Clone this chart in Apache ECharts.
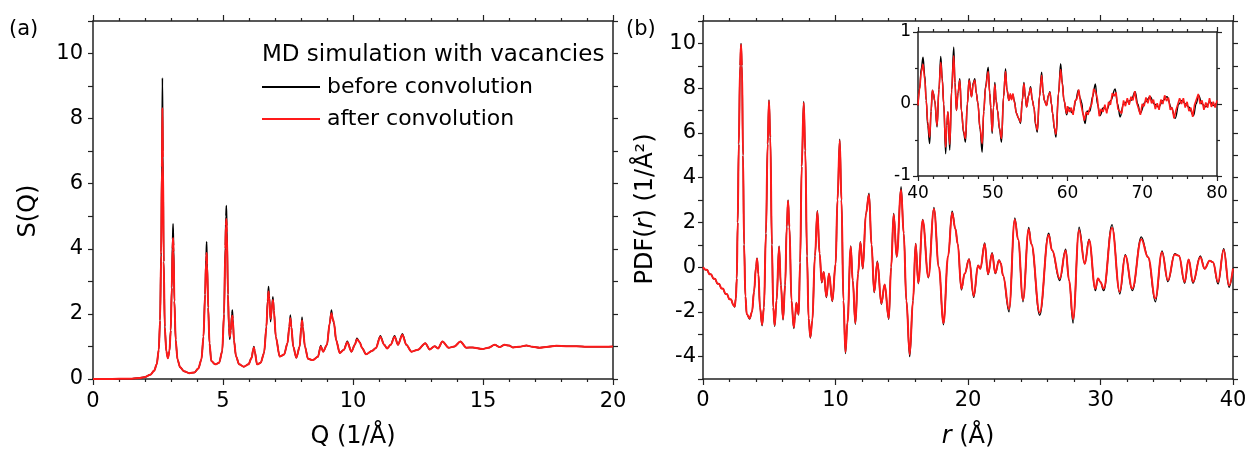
<!DOCTYPE html>
<html>
<head>
<meta charset="utf-8">
<script src="https://cdn.jsdelivr.net/npm/echarts@6/dist/echarts.min.js"></script>
<style>
html,body{margin:0;padding:0;background:#fff;}
#chart{width:1252px;height:454px;}
</style>
</head>
<body>
<div id="chart"></div>
<script>
// ---- Panel (a): S(Q) ----
const sqAfter = [
[0,0],[0.5,0],[1.0,0.005],[1.5,0.01],[1.8,0.03],[2.0,0.06],[2.2,0.13],[2.35,0.25],[2.45,0.45],[2.53,0.9],[2.58,1.8],[2.62,3.8],[2.65,6.5],[2.67,8.33],[2.69,6.8],[2.72,3.6],[2.76,1.6],[2.82,0.85],[2.88,0.64],[2.94,0.85],[2.99,1.5],[3.03,2.8],[3.06,4.0],[3.08,4.33],[3.10,3.9],[3.13,2.4],[3.18,1.2],[3.25,0.6],[3.35,0.36],[3.5,0.24],[3.7,0.18],[3.9,0.2],[4.05,0.32],[4.17,0.6],[4.25,1.3],[4.31,2.6],[4.35,3.6],[4.37,3.87],[4.39,3.5],[4.43,2.2],[4.48,1.1],[4.55,0.55],[4.7,0.45],[4.85,0.5],[4.97,0.85],[5.04,2.0],[5.09,4.0],[5.11,4.7],[5.13,4.92],[5.15,4.5],[5.19,2.6],[5.23,1.6],[5.26,1.3],[5.30,1.5],[5.34,1.9],[5.36,1.94],[5.38,1.8],[5.42,1.2],[5.5,0.7],[5.62,0.45],[5.8,0.38],[5.98,0.45],[6.1,0.65],[6.16,0.9],[6.19,0.97],[6.22,0.85],[6.31,0.45],[6.45,0.5],[6.58,0.8],[6.67,1.6],[6.72,2.4],[6.75,2.69],[6.78,2.5],[6.83,1.85],[6.88,2.2],[6.92,2.43],[6.96,2.1],[7.03,1.3],[7.18,0.69],[7.35,0.75],[7.48,1.1],[7.55,1.6],[7.59,1.87],[7.63,1.6],[7.7,1.0],[7.82,0.65],[7.95,1.0],[8.01,1.6],[8.04,1.8],[8.07,1.6],[8.15,1.0],[8.27,0.62],[8.45,0.58],[8.65,0.68],[8.76,1.0],[8.85,0.84],[9.0,1.05],[9.1,1.7],[9.17,2.02],[9.22,1.85],[9.27,1.73],[9.35,1.2],[9.49,0.8],[9.65,0.9],[9.78,1.13],[9.94,0.84],[10.07,1.05],[10.15,1.22],[10.26,1.13],[10.35,0.95],[10.5,0.76],[10.74,0.87],[10.88,0.95],[11.05,1.3],[11.2,1.05],[11.31,0.94],[11.45,1.05],[11.6,1.3],[11.73,1.05],[11.9,1.36],[12.05,1.05],[12.25,0.84],[12.5,0.9],[12.78,1.1],[12.95,0.91],[13.14,1.01],[13.27,0.94],[13.44,1.15],[13.68,0.96],[13.9,1.0],[14.13,1.15],[14.36,0.96],[14.6,0.97],[14.98,0.92],[15.2,0.96],[15.45,1.05],[15.64,0.98],[15.83,1.05],[16.0,1.03],[16.15,0.97],[16.4,0.99],[16.67,1.03],[16.9,0.99],[17.18,0.96],[17.5,0.99],[17.82,1.02],[18.2,1.01],[18.6,1.01],[19.0,0.99],[19.5,0.99],[20.0,1.0]
];
const sqBefore = [
[0,0],[0.5,0],[1.0,0.005],[1.5,0.01],[1.8,0.03],[2.0,0.06],[2.2,0.13],[2.35,0.25],[2.45,0.45],[2.53,0.9],[2.58,1.8],[2.62,3.9],[2.65,6.8],[2.67,9.25],[2.69,7.0],[2.72,3.6],[2.76,1.6],[2.82,0.85],[2.88,0.64],[2.94,0.85],[2.99,1.5],[3.03,2.8],[3.06,4.3],[3.08,4.77],[3.10,4.1],[3.13,2.4],[3.18,1.2],[3.25,0.6],[3.35,0.36],[3.5,0.24],[3.7,0.18],[3.9,0.2],[4.05,0.32],[4.17,0.6],[4.25,1.3],[4.31,2.6],[4.35,3.8],[4.37,4.22],[4.39,3.6],[4.43,2.2],[4.48,1.1],[4.55,0.55],[4.7,0.45],[4.85,0.5],[4.97,0.85],[5.04,2.0],[5.09,4.1],[5.11,5.0],[5.13,5.33],[5.15,4.7],[5.19,2.6],[5.23,1.55],[5.26,1.22],[5.30,1.5],[5.34,2.0],[5.36,2.12],[5.38,1.85],[5.42,1.2],[5.5,0.7],[5.62,0.45],[5.8,0.38],[5.98,0.45],[6.1,0.65],[6.16,0.9],[6.19,1.0],[6.22,0.85],[6.31,0.45],[6.45,0.5],[6.58,0.8],[6.67,1.6],[6.72,2.45],[6.75,2.84],[6.78,2.55],[6.83,1.76],[6.88,2.2],[6.92,2.53],[6.96,2.1],[7.03,1.3],[7.18,0.69],[7.35,0.75],[7.48,1.1],[7.55,1.6],[7.59,1.97],[7.63,1.6],[7.7,1.0],[7.82,0.65],[7.95,1.0],[8.01,1.6],[8.04,1.9],[8.07,1.6],[8.15,1.0],[8.27,0.62],[8.45,0.58],[8.65,0.68],[8.76,1.03],[8.85,0.84],[9.0,1.05],[9.1,1.7],[9.17,2.12],[9.22,1.85],[9.27,1.7],[9.35,1.2],[9.49,0.8],[9.65,0.9],[9.78,1.16],[9.94,0.84],[10.07,1.05],[10.15,1.25],[10.26,1.13],[10.35,0.95],[10.5,0.76],[10.74,0.87],[10.88,0.95],[11.05,1.33],[11.2,1.05],[11.31,0.94],[11.45,1.05],[11.6,1.33],[11.73,1.05],[11.9,1.39],[12.05,1.05],[12.25,0.84],[12.5,0.9],[12.78,1.1],[12.95,0.91],[13.14,1.01],[13.27,0.94],[13.44,1.15],[13.68,0.96],[13.9,1.0],[14.13,1.15],[14.36,0.96],[14.6,0.97],[14.98,0.92],[15.2,0.96],[15.45,1.05],[15.64,0.98],[15.83,1.05],[16.0,1.03],[16.15,0.97],[16.4,0.99],[16.67,1.03],[16.9,0.99],[17.18,0.96],[17.5,0.99],[17.82,1.02],[18.2,1.01],[18.6,1.01],[19.0,0.99],[19.5,0.99],[20.0,1.0]
];

// ---- Panel (b): PDF(r) ----
const pdfAfter = [
[0,0],[0.2,-0.12],[0.3,-0.12],[0.5,-0.32],[0.6,-0.32],[0.8,-0.52],[0.9,-0.52],[1.1,-0.74],[1.2,-0.74],[1.4,-0.96],[1.5,-0.96],[1.7,-1.2],[1.8,-1.2],[2.0,-1.44],[2.1,-1.44],[2.3,-1.7],[2.39,-1.76],[2.48,-1.4],[2.55,-0.5],[2.62,2.0],[2.7,5.5],[2.8,9.0],[2.87,9.95],[2.94,9.0],[3.02,5.0],[3.1,1.0],[3.2,-1.3],[3.3,-2.1],[3.52,-2.28],[3.7,-2.0],[3.85,-1.1],[4.0,0.0],[4.08,0.37],[4.18,-0.3],[4.3,-1.8],[4.46,-2.57],[4.6,-1.8],[4.75,1.5],[4.88,5.5],[4.98,7.42],[5.08,5.8],[5.2,1.0],[5.3,-1.8],[5.41,-2.6],[5.55,-1.5],[5.74,0.91],[5.88,-0.8],[6.04,-2.32],[6.2,-0.8],[6.32,1.8],[6.42,2.97],[6.52,1.8],[6.68,-1.5],[6.85,-2.69],[6.95,-2.2],[7.05,-1.59],[7.15,-2.0],[7.22,-2.1],[7.33,0.2],[7.45,4.5],[7.6,7.35],[7.72,5.2],[7.85,0.5],[7.97,-2.3],[8.1,-3.12],[8.25,-2.4],[8.45,0.5],[8.63,2.47],[8.8,0.6],[8.96,-0.66],[9.11,-0.22],[9.31,-1.32],[9.51,-0.29],[9.76,-1.5],[10.01,0.14],[10.15,3.0],[10.32,5.66],[10.45,3.0],[10.6,-1.5],[10.75,-3.79],[10.9,-2.5],[11.15,0.91],[11.3,-0.6],[11.5,-2.5],[11.7,-0.3],[11.88,1.1],[12.06,-0.05],[12.3,2.4],[12.53,3.24],[12.72,1.0],[12.92,-1.1],[13.16,0.22],[13.46,-1.62],[13.71,-0.78],[14.02,-2.28],[14.2,0.0],[14.39,2.35],[14.62,0.47],[14.95,3.45],[15.15,1.5],[15.35,-1.5],[15.6,-3.9],[15.85,-1.5],[16.05,1.03],[16.25,-0.71],[16.58,2.09],[17.01,-0.44],[17.43,2.6],[17.8,0.0],[18.15,-2.5],[18.5,0.5],[18.8,2.43],[19.05,1.7],[19.22,1.05],[19.5,-0.97],[19.75,-0.29],[20.08,0.34],[20.43,-1.29],[20.76,0.07],[20.93,-0.07],[21.26,1.03],[21.51,-0.3],[21.82,0.6],[22.06,-0.26],[22.34,0.3],[22.47,0.18],[22.64,-0.37],[23.1,-1.87],[23.53,2.13],[23.78,1.25],[24.15,-1.47],[24.58,1.69],[24.78,1.03],[25.41,-2.03],[26.09,1.44],[26.34,0.76],[26.92,-0.51],[27.37,0.74],[27.63,-0.59],[27.93,-2.32],[28.38,1.65],[28.81,0.15],[29.14,1.2],[29.61,-0.96],[29.81,-0.51],[29.99,-0.66],[30.24,-0.96],[30.87,1.76],[31.45,-1.1],[31.87,0.51],[32.4,-0.96],[33.08,1.25],[33.59,0.44],[34.14,-1.4],[34.64,0.66],[35.09,-0.59],[35.6,0.56],[35.92,0.51],[36.35,-0.66],[36.65,0.34],[36.98,-0.66],[37.53,0.44],[37.86,-0.07],[38.24,0.29],[38.49,0.22],[38.87,-0.66],[39.3,0.76],[39.7,-0.82],[40.0,-0.07]
];
const pdfBefore = [
[0,0],[0.2,-0.12],[0.3,-0.12],[0.5,-0.32],[0.6,-0.32],[0.8,-0.52],[0.9,-0.52],[1.1,-0.74],[1.2,-0.74],[1.4,-0.96],[1.5,-0.96],[1.7,-1.2],[1.8,-1.2],[2.0,-1.44],[2.1,-1.44],[2.3,-1.7],[2.39,-1.78],[2.48,-1.4],[2.55,-0.5],[2.62,2.0],[2.7,5.5],[2.8,9.0],[2.87,10.0],[2.94,9.0],[3.02,5.0],[3.1,1.0],[3.2,-1.3],[3.3,-2.1],[3.52,-2.32],[3.7,-2.0],[3.85,-1.1],[4.0,0.0],[4.08,0.4],[4.18,-0.3],[4.3,-1.8],[4.46,-2.62],[4.6,-1.8],[4.75,1.5],[4.88,5.5],[4.98,7.47],[5.08,5.8],[5.2,1.0],[5.3,-1.8],[5.41,-2.65],[5.55,-1.5],[5.74,0.94],[5.88,-0.8],[6.04,-2.36],[6.2,-0.8],[6.32,1.8],[6.42,3.0],[6.52,1.8],[6.68,-1.5],[6.85,-2.74],[6.95,-2.2],[7.05,-1.59],[7.15,-2.0],[7.22,-2.14],[7.33,0.2],[7.45,4.5],[7.6,7.4],[7.72,5.2],[7.85,0.5],[7.97,-2.3],[8.1,-3.17],[8.25,-2.4],[8.45,0.5],[8.63,2.52],[8.8,0.6],[8.96,-0.7],[9.11,-0.22],[9.31,-1.36],[9.51,-0.29],[9.76,-1.54],[10.01,0.14],[10.15,3.0],[10.32,5.72],[10.45,3.0],[10.6,-1.5],[10.75,-3.86],[10.9,-2.5],[11.15,0.95],[11.3,-0.6],[11.5,-2.55],[11.7,-0.3],[11.88,1.14],[12.06,-0.08],[12.3,2.4],[12.53,3.3],[12.72,1.0],[12.92,-1.14],[13.16,0.26],[13.46,-1.66],[13.71,-0.78],[14.02,-2.33],[14.2,0.0],[14.39,2.4],[14.62,0.45],[14.95,3.6],[15.15,1.5],[15.35,-1.5],[15.6,-4.0],[15.85,-1.5],[16.05,1.06],[16.25,-0.74],[16.58,2.13],[17.01,-0.48],[17.43,2.67],[17.8,0.0],[18.15,-2.58],[18.5,0.5],[18.8,2.5],[19.05,1.72],[19.22,1.05],[19.5,-1.02],[19.75,-0.29],[20.08,0.36],[20.43,-1.35],[20.76,0.08],[20.93,-0.07],[21.26,1.08],[21.51,-0.33],[21.82,0.64],[22.06,-0.29],[22.34,0.32],[22.47,0.18],[22.64,-0.37],[23.1,-2.0],[23.53,2.2],[23.78,1.25],[24.15,-1.55],[24.58,1.77],[24.78,1.03],[25.41,-2.15],[26.09,1.52],[26.34,0.76],[26.92,-0.6],[27.37,0.8],[27.63,-0.59],[27.93,-2.5],[28.38,1.78],[28.81,0.15],[29.14,1.25],[29.61,-1.05],[29.81,-0.51],[29.99,-0.66],[30.24,-1.05],[30.87,1.9],[31.45,-1.2],[31.87,0.55],[32.4,-1.05],[33.08,1.35],[33.59,0.44],[34.14,-1.55],[34.64,0.72],[35.09,-0.65],[35.6,0.6],[35.92,0.51],[36.35,-0.72],[36.65,0.34],[36.98,-0.72],[37.53,0.5],[37.86,-0.07],[38.24,0.29],[38.49,0.22],[38.87,-0.75],[39.3,0.82],[39.7,-0.9],[40.0,-0.07]
];

// ---- Inset: PDF(r), r = 40..80 ----
const insetBefore = [
[40.0,-0.02],[40.2,0.21],[40.45,0.5],[40.67,0.65],[40.9,0.4],[41.1,0.05],[41.3,-0.3],[41.56,-0.55],[41.75,-0.1],[41.92,0.19],[42.05,0.15],[42.23,0.05],[42.55,-0.32],[42.8,0.2],[43.04,0.66],[43.25,0.35],[43.44,0.0],[43.7,-0.69],[43.85,-0.3],[44.0,-0.11],[44.25,-0.64],[44.5,0.2],[44.78,0.79],[44.95,0.3],[45.14,-0.09],[45.35,0.15],[45.59,0.35],[45.81,-0.09],[46.1,-0.4],[46.35,-0.53],[46.6,0.0],[46.84,0.35],[47.15,0.1],[47.4,0.3],[47.6,0.35],[47.8,0.15],[48.0,0.02],[48.3,-0.35],[48.58,-0.67],[48.8,-0.1],[49.03,0.24],[49.39,0.51],[49.6,0.15],[49.74,-0.05],[49.92,-0.41],[50.1,-0.05],[50.28,0.3],[50.45,0.05],[50.64,-0.09],[50.9,-0.35],[51.17,-0.53],[51.45,0.1],[51.71,0.49],[51.9,0.2],[52.16,0.05],[52.35,0.12],[52.51,0.08],[52.7,0.13],[52.87,0.05],[53.18,-0.13],[53.45,-0.2],[53.72,-0.27],[53.95,0.05],[54.17,0.3],[54.35,0.1],[54.53,-0.04],[54.8,0.12],[55.06,0.24],[55.3,0.05],[55.5,-0.04],[55.75,-0.3],[55.96,-0.39],[56.25,0.1],[56.54,0.44],[56.75,0.15],[56.9,0.05],[57.2,-0.02],[57.45,0.12],[57.65,0.17],[57.85,0.0],[58.01,-0.13],[58.25,-0.35],[58.46,-0.46],[58.8,0.15],[59.08,0.56],[59.3,0.3],[59.53,0.05],[59.89,-0.15],[60.1,-0.05],[60.34,-0.06],[60.55,-0.12],[60.78,-0.1],[61.1,0.05],[61.45,0.19],[61.7,0.08],[61.9,0.02],[62.1,-0.15],[62.35,-0.27],[62.6,-0.1],[63.0,-0.1],[63.35,0.1],[63.73,0.28],[64.0,0.0],[64.36,-0.16],[64.8,-0.05],[65.25,-0.08],[65.8,0.05],[66.37,0.21],[66.7,0.0],[67.04,-0.18],[67.5,0.0],[67.93,0.03],[68.5,0.05],[69.05,0.17],[69.4,0.0],[69.72,-0.13],[70.4,0.03],[71.06,0.1],[71.6,0.0],[72.18,-0.04],[72.8,0.05],[73.3,0.1],[73.9,-0.05],[74.41,-0.2],[74.9,0.0],[75.3,0.05],[75.8,0.0],[76.2,-0.04],[76.87,-0.16],[77.2,0.0],[77.54,0.12],[78.0,0.0],[78.44,-0.04],[79.1,0.03],[79.5,-0.02],[80.0,0.02]
];
const insetAfter = [
[40.0,-0.02],[40.2,0.2],[40.45,0.45],[40.67,0.55],[40.9,0.35],[41.1,0.05],[41.3,-0.25],[41.56,-0.46],[41.75,-0.1],[41.92,0.19],[42.05,0.15],[42.23,0.05],[42.55,-0.3],[42.8,0.2],[43.04,0.58],[43.25,0.33],[43.44,0.0],[43.7,-0.6],[43.85,-0.3],[44.0,-0.11],[44.25,-0.56],[44.5,0.18],[44.78,0.67],[44.95,0.28],[45.14,-0.09],[45.35,0.15],[45.59,0.33],[45.81,-0.09],[46.1,-0.38],[46.35,-0.48],[46.6,0.0],[46.84,0.33],[47.15,0.1],[47.4,0.28],[47.6,0.33],[47.8,0.15],[48.0,0.02],[48.3,-0.33],[48.58,-0.55],[48.8,-0.1],[49.03,0.22],[49.39,0.45],[49.6,0.15],[49.74,-0.05],[49.92,-0.38],[50.1,-0.05],[50.28,0.27],[50.45,0.05],[50.64,-0.09],[50.9,-0.33],[51.17,-0.48],[51.45,0.1],[51.71,0.45],[51.9,0.2],[52.16,0.05],[52.35,0.14],[52.51,0.06],[52.7,0.14],[52.87,0.03],[53.18,-0.13],[53.45,-0.2],[53.72,-0.25],[53.95,0.05],[54.17,0.28],[54.35,0.1],[54.53,-0.04],[54.8,0.12],[55.06,0.22],[55.3,0.05],[55.5,-0.04],[55.75,-0.28],[55.96,-0.36],[56.25,0.1],[56.54,0.4],[56.75,0.15],[56.9,0.05],[57.2,-0.02],[57.45,0.12],[57.65,0.16],[57.85,0.0],[58.01,-0.13],[58.25,-0.33],[58.46,-0.42],[58.8,0.15],[59.08,0.48],[59.3,0.28],[59.53,0.05],[59.89,-0.13],[60.0,-0.03]
];
const insetAfterTail = [
[60.0,-0.03],[60.25,-0.11],[60.5,-0.05],[60.75,-0.15],[61.0,0.04],[61.25,0.07],[61.5,0.2],[61.75,0.02],[62.0,0.0],[62.25,-0.23],[62.5,-0.11],[62.75,-0.15],[63.0,-0.05],[63.25,0.0],[63.5,0.21],[63.75,0.17],[64.0,0.07],[64.25,-0.17],[64.5,-0.07],[64.75,-0.11],[65.0,-0.01],[65.25,-0.13],[65.5,0.03],[65.75,-0.01],[66.0,0.15],[66.25,0.11],[66.5,0.16],[66.75,-0.07],[67.0,-0.09],[67.25,-0.13],[67.5,0.05],[67.75,-0.03],[68.0,0.08],[68.25,-0.01],[68.5,0.1],[68.75,0.05],[69.0,0.18],[69.25,0.02],[69.5,0.0],[69.75,-0.15],[70.0,0.0],[70.25,-0.03],[70.5,0.09],[70.75,0.01],[71.0,0.12],[71.25,0.01],[71.5,0.06],[71.75,-0.07],[72.0,0.01],[72.25,-0.08],[72.5,0.06],[72.75,0.0],[73.0,0.12],[73.25,0.04],[73.5,0.09],[73.75,-0.08],[74.0,-0.05],[74.25,-0.2],[74.5,-0.09],[74.75,-0.09],[75.0,0.08],[75.25,0.0],[75.5,0.08],[75.75,-0.05],[76.0,0.03],[76.25,-0.1],[76.5,-0.05],[76.75,-0.18],[77.0,-0.01],[77.25,-0.01],[77.5,0.14],[77.75,0.0],[78.0,0.05],[78.25,-0.08],[78.5,0.02],[78.75,-0.05],[79.0,0.08],[79.25,-0.04],[79.5,0.03],[79.75,-0.05],[80.0,0.05]
];

const FONT = 'DejaVu Sans';
const AXIS_COLOR = '#222';
const RED = '#ff1a1a';
const BLACK = '#000';

function evenOnly(v){ return Math.round(v) % 2 === 0 ? String(v) : ''; }

function axis(kind, gridIndex, position, min, max, interval, o){
  o = o || {};
  const a = {
    type: 'value', gridIndex: gridIndex, position: position,
    min: min, max: max, interval: interval,
    axisLine: {show: true, onZero: false, lineStyle: {color: AXIS_COLOR, width: 1.5}},
    axisTick: {show: true, length: o.tickLen || 6, lineStyle: {color: AXIS_COLOR, width: 1.2}},
    minorTick: {show: !!o.minor, splitNumber: o.minor || 5, length: 3, lineStyle: {color: AXIS_COLOR, width: 1.2}},
    splitLine: {show: false},
    axisLabel: {show: !!o.label, color: '#000', fontFamily: FONT, fontSize: o.fontSize || 21, margin: o.margin || 10, formatter: o.formatter, showMinLabel: true, showMaxLabel: true}
  };
  if (o.name) {
    a.name = o.name;
    a.nameLocation = 'middle';
    a.nameGap = o.nameGap;
    a.nameTextStyle = Object.assign({color: '#000', fontFamily: FONT, fontSize: 24}, o.nameStyle || {});
  }
  return a;
}

const chart = echarts.init(document.getElementById('chart'), null, {renderer: 'canvas'});
chart.setOption({
  animation: false,
  backgroundColor: '#fff',
  title: [
    {text: '(a)', left: 9, top: 19, padding: 0, textStyle: {fontFamily: FONT, fontSize: 21, fontWeight: 'normal', color: '#000'}},
    {text: '(b)', left: 626, top: 19, padding: 0, textStyle: {fontFamily: FONT, fontSize: 21, fontWeight: 'normal', color: '#000'}},
    {text: 'MD simulation with vacancies', left: 262, top: 44, padding: 0, textStyle: {fontFamily: FONT, fontSize: 23, fontWeight: 'normal', color: '#000'}}
  ],
  legend: {
    data: ['before convolution', 'after convolution'],
    orient: 'vertical', left: 262, top: 76, padding: 0,
    icon: 'rect', itemWidth: 58, itemHeight: 2, itemGap: 10,
    textStyle: {fontFamily: FONT, fontSize: 22, lineHeight: 22, color: '#000', padding: [0, 0, 0, 2]},
    selectedMode: false
  },
  grid: [
    {left: 93, top: 21, width: 520, height: 358},
    {left: 703, top: 21, width: 530, height: 362},
    {left: 918, top: 32, width: 299, height: 144}
  ],
  xAxis: [
    axis('x', 0, 'bottom', 0, 20, 5, {label: true, minor: 5, margin: 12, name: 'Q (1/Å)', nameGap: 46}),
    axis('x', 0, 'top', 0, 20, 5, {minor: 5}),
    axis('x', 1, 'bottom', 0, 40, 10, {label: true, minor: 5, margin: 11, name: '{i|r} (Å)', nameGap: 46,
      nameStyle: {rich: {i: {fontFamily: FONT, fontSize: 24, fontStyle: 'italic', color: '#000'}}}}),
    axis('x', 1, 'top', 0, 40, 10, {minor: 5}),
    axis('x', 2, 'bottom', 40, 80, 10, {label: true, minor: 5, margin: 9, fontSize: 17, tickLen: 5}),
    axis('x', 2, 'top', 40, 80, 10, {minor: 5, tickLen: 5})
  ],
  yAxis: [
    axis('y', 0, 'left', 0, 11, 1, {label: true, margin: 10, tickLen: 5, formatter: evenOnly, name: 'S(Q)', nameGap: 52,
      nameStyle: {padding: [0, 22, 0, 0]}}),
    axis('y', 0, 'right', 0, 11, 1, {tickLen: 5}),
    axis('y', 1, 'left', -5, 11, 1, {label: true, margin: 7, tickLen: 5, formatter: evenOnly,
      name: 'PDF({i|r}) (1/Å²)', nameGap: 45,
      nameStyle: {padding: [0, 18, 0, 0], rich: {i: {fontFamily: FONT, fontSize: 24, fontStyle: 'italic', color: '#000'}}}}),
    axis('y', 1, 'right', -5, 11, 1, {tickLen: 5}),
    axis('y', 2, 'left', -1, 1, 1, {label: true, minor: 2, margin: 7, fontSize: 17, tickLen: 5}),
    axis('y', 2, 'right', -1, 1, 1, {minor: 2, tickLen: 5})
  ],
  series: [
    {name: 'before convolution', type: 'line', xAxisIndex: 0, yAxisIndex: 0, data: sqBefore, symbol: 'none', smooth: 0.3, smoothMonotone: 'x', lineStyle: {color: BLACK, width: 1.5}, itemStyle: {color: BLACK}, z: 2},
    {name: 'after convolution', type: 'line', xAxisIndex: 0, yAxisIndex: 0, data: sqAfter, symbol: 'none', smooth: 0.3, smoothMonotone: 'x', lineStyle: {color: RED, width: 2}, itemStyle: {color: RED}, z: 3},
    {name: 'before convolution', type: 'line', xAxisIndex: 2, yAxisIndex: 2, data: pdfBefore, symbol: 'none', smooth: 0.4, smoothMonotone: 'x', lineStyle: {color: BLACK, width: 1.4}, itemStyle: {color: BLACK}, z: 2},
    {name: 'after convolution', type: 'line', xAxisIndex: 2, yAxisIndex: 2, data: pdfAfter, symbol: 'none', smooth: 0.4, smoothMonotone: 'x', lineStyle: {color: RED, width: 2}, itemStyle: {color: RED}, z: 3},
    {name: 'before convolution', type: 'line', xAxisIndex: 4, yAxisIndex: 4, data: insetBefore, symbol: 'none', smooth: 0.4, smoothMonotone: 'x', lineStyle: {color: BLACK, width: 1.4}, itemStyle: {color: BLACK}, z: 2},
    {name: 'after convolution', type: 'line', xAxisIndex: 4, yAxisIndex: 4, data: insetAfter, symbol: 'none', smooth: 0.4, smoothMonotone: 'x', lineStyle: {color: RED, width: 1.6}, itemStyle: {color: RED}, z: 3},
    {name: 'after convolution', type: 'line', xAxisIndex: 4, yAxisIndex: 4, data: insetAfterTail, symbol: 'none', smooth: false, lineStyle: {color: RED, width: 1.6}, itemStyle: {color: RED}, z: 3}
  ]
});
</script>
</body>
</html>
